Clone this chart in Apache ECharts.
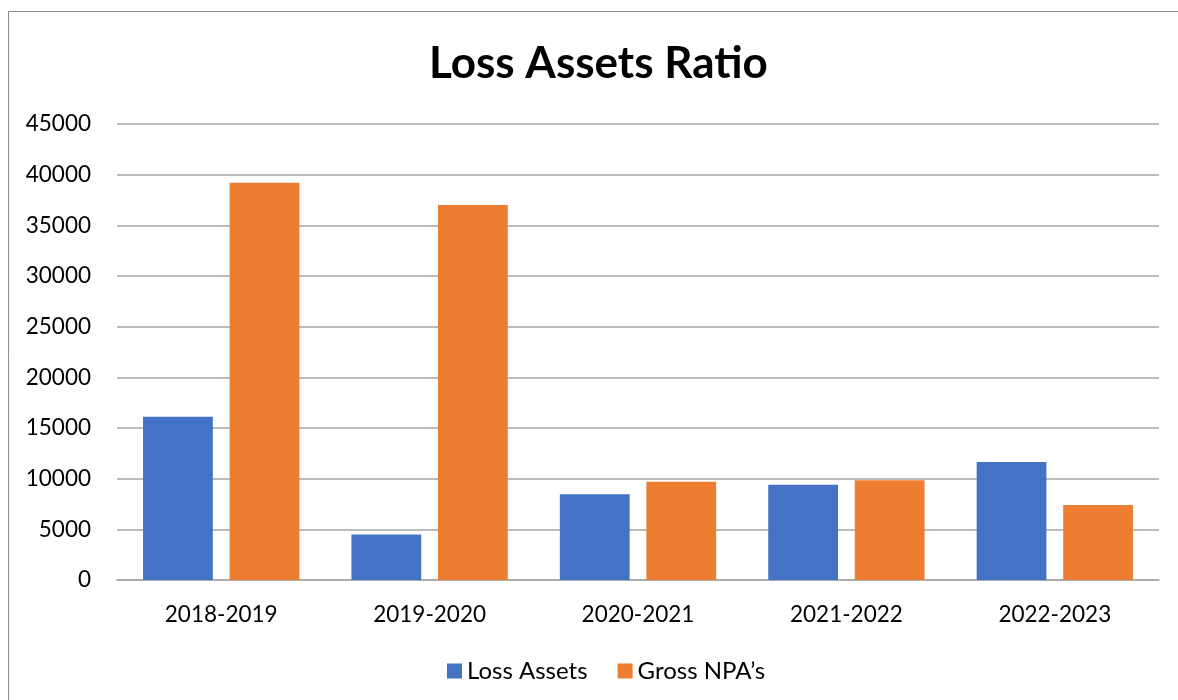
<!DOCTYPE html>
<html>
<head>
<meta charset="utf-8">
<script src="https://cdn.jsdelivr.net/npm/echarts@6/dist/echarts.min.js"></script>
<style>
  html, body { margin: 0; padding: 0; background: #fff; }
  #chart { width: 1178px; height: 700px; }
</style>
</head>
<body>
<div id="chart"></div>
<script>
// data
const years = ['2018-2019', '2019-2020', '2020-2021', '2021-2022', '2022-2023']
const lossAssets = [16100, 4500, 8450, 9400, 11650]
const grossNpa = [39200, 37000, 9700, 9850, 7400]

const chart = echarts.init(document.getElementById('chart'))
const font = 'Lato, "Open Sans", sans-serif'

chart.setOption({
  animation: false,
  title: {
    text: 'Loss Assets Ratio',
    left: 424,
    top: 37,
    textStyle: { fontFamily: font, fontSize: 44, fontWeight: 'bold', color: '#000' }
  },
  graphic: [
    {
      type: 'rect',
      shape: { x: 8.5, y: 11.5, width: 1200, height: 800 },
      style: { fill: 'none', stroke: '#8c8c8c', lineWidth: 1 },
      silent: true
    }
  ],
  legend: {
    bottom: 12,
    left: 442,
    itemWidth: 15,
    itemHeight: 15,
    itemGap: 30,
    icon: 'rect',
    textStyle: { fontFamily: font, fontSize: 24, color: '#000' },
    data: ['Loss Assets', 'Gross NPA’s']
  },
  grid: {
    left: 117,
    right: 19,
    top: 124,
    bottom: 120
  },
  xAxis: {
    type: 'category',
    data: years,
    axisTick: { show: false },
    axisLine: { lineStyle: { color: '#a6a6a6', width: 1.5 } },
    axisLabel: { fontFamily: font, fontSize: 22.5, color: '#000', margin: 23 }
  },
  yAxis: {
    type: 'value',
    min: 0,
    max: 45000,
    interval: 5000,
    axisLine: { show: false },
    axisTick: { show: false },
    axisLabel: {
      fontFamily: font,
      fontSize: 22.5,
      color: '#000',
      margin: 26,
      formatter: (v) => String(v)
    },
    splitLine: { lineStyle: { color: '#a6a6a6', width: 1.5 } }
  },
  series: [
    {
      name: 'Loss Assets',
      type: 'bar',
      data: lossAssets,
      barGap: '24%',
      barCategoryGap: '25%',
      itemStyle: { color: '#4472c4' }
    },
    {
      name: 'Gross NPA’s',
      type: 'bar',
      data: grossNpa,
      itemStyle: { color: '#ed7d31' }
    }
  ]
})
</script>
</body>
</html>
